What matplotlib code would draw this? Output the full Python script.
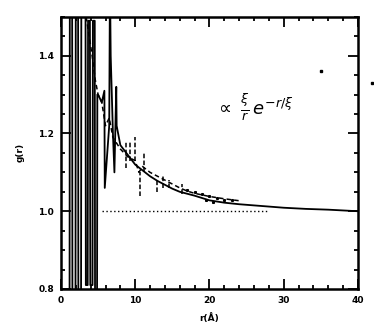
"""g(r) pair correlation, scanned-figure style."""
import matplotlib
matplotlib.use("Agg")
import matplotlib.pyplot as plt
import numpy as np

# solid curve: strong oscillations below 5 A, then smooth decay
r_solid = [1.15, 1.20, 1.50, 1.55, 1.95, 2.00, 2.30, 2.35, 2.70, 2.75, 3.30,
           3.35, 3.60, 3.65, 3.90, 3.95, 4.25, 4.30, 4.55, 4.60, 4.85, 4.90,
           5.00, 5.50, 5.85, 5.90, 6.50, 6.60, 6.70, 7.00, 7.20, 7.45, 7.50,
           7.70, 8.0, 9.0, 10.0, 11.0, 12.0, 13.0, 14.0, 15.0, 16.0, 17.0,
           18.0, 19.0, 20.0, 22.0, 24.0, 26.0, 28.0, 30.0, 33.0, 36.0, 40.0]
g_solid = [0.60, 1.70, 1.70, 0.60, 0.60, 1.70, 1.70, 0.60, 0.60, 1.70, 1.70,
           0.81, 0.81, 1.49, 1.49, 0.81, 0.81, 1.49, 1.49, 0.60, 0.60, 1.30,
           1.30, 1.28, 1.31, 1.06, 1.22, 1.60, 1.40, 1.20, 1.10, 1.32, 1.22,
           1.20, 1.17, 1.145, 1.12, 1.105, 1.09, 1.078, 1.068, 1.058, 1.05,
           1.045, 1.04, 1.034, 1.028, 1.022, 1.018, 1.015, 1.012, 1.009,
           1.006, 1.004, 1.000]

# dashed curve (second estimate)
r_dash = [3.4, 3.8, 4.2, 4.6, 5.0, 5.5, 6.0, 6.5, 7.0, 8.0, 9.0, 10.0, 10.5,
          11.0, 12.0, 13.0, 14.0, 15.0, 16.0, 17.0, 18.0, 20.0, 22.0, 24.0]
g_dash = [1.50, 1.45, 1.40, 1.34, 1.30, 1.28, 1.22, 1.24, 1.19, 1.16, 1.14,
          1.13, 1.10, 1.115, 1.10, 1.09, 1.08, 1.07, 1.06, 1.052, 1.046,
          1.038, 1.032, 1.027]

# short noise spikes on the dashed curve
r_spk = [8.7, 9.3, 10.0, 10.7, 11.2, 12.9, 13.8, 14.6, 16.3]
g_spk_top = [1.18, 1.18, 1.19, 1.10, 1.15, 1.08, 1.09, 1.08, 1.07]
g_spk_bot = [1.11, 1.13, 1.13, 1.04, 1.10, 1.05, 1.06, 1.06, 1.045]

# scattered dots above the tail
r_dots = [17.0, 18.0, 19.0, 20.0, 21.0, 22.0, 23.0, 19.5, 20.5]
g_dots = [1.055, 1.050, 1.045, 1.040, 1.035, 1.030, 1.028, 1.030, 1.025]

# reference line g = 1
r_base = [5.5, 28.0]
g_base = [1.0, 1.0]

fig = plt.figure(figsize=(3.74, 3.31), dpi=100)
ax = fig.add_axes([0.163, 0.127, 0.794, 0.822])

ax.plot(r_solid, g_solid, color="black", lw=1.3)
ax.plot(r_dash, g_dash, color="black", lw=1.1, linestyle=(0, (3, 2)))
ax.vlines(r_spk, g_spk_bot, g_spk_top, color="black", lw=1.1,
          linestyles=(0, (3, 1.5)))
ax.plot(r_dots, g_dots, linestyle="none", marker="s", ms=1.2, color="black")
ax.plot(r_base, g_base, color="black", lw=1.0, linestyle=(0, (1, 1.8)))
ax.plot([35.0], [1.36], marker="s", ms=2, color="black")
ax.plot([41.9], [1.33], marker="s", ms=1.5, color="black", clip_on=False)

ax.text(26.0, 1.265, r"$\propto\ \frac{\xi}{r}\,e^{-r/\xi}$", fontsize=13,
        ha="center", va="center")

ax.set_xlim(0, 40)
ax.set_ylim(0.8, 1.5)
ax.set_xticks([0, 10, 20, 30, 40])
ax.set_xticks(np.arange(0, 41, 2), minor=True)
ax.set_yticks([0.8, 1.0, 1.2, 1.4])
ax.set_yticks(np.arange(0.8, 1.51, 0.05), minor=True)
ax.set_yticklabels(["0.8", "1.0", "1.2", "1.4"])
ax.tick_params(which="both", direction="in", top=True, right=True,
               width=1.3, labelsize=6.5, pad=5)
ax.tick_params(which="major", length=7)
ax.tick_params(which="minor", length=3)
for lab in ax.get_xticklabels() + ax.get_yticklabels():
    lab.set_fontweight("bold")
for s in ax.spines.values():
    s.set_linewidth(1.8)

ax.set_xlabel("r(Å)", fontsize=6.5, fontweight="bold", labelpad=6)
ax.set_ylabel("g(r)", fontsize=6.5, fontweight="bold", labelpad=10)

fig.savefig("out.png", dpi=100, facecolor="white")
